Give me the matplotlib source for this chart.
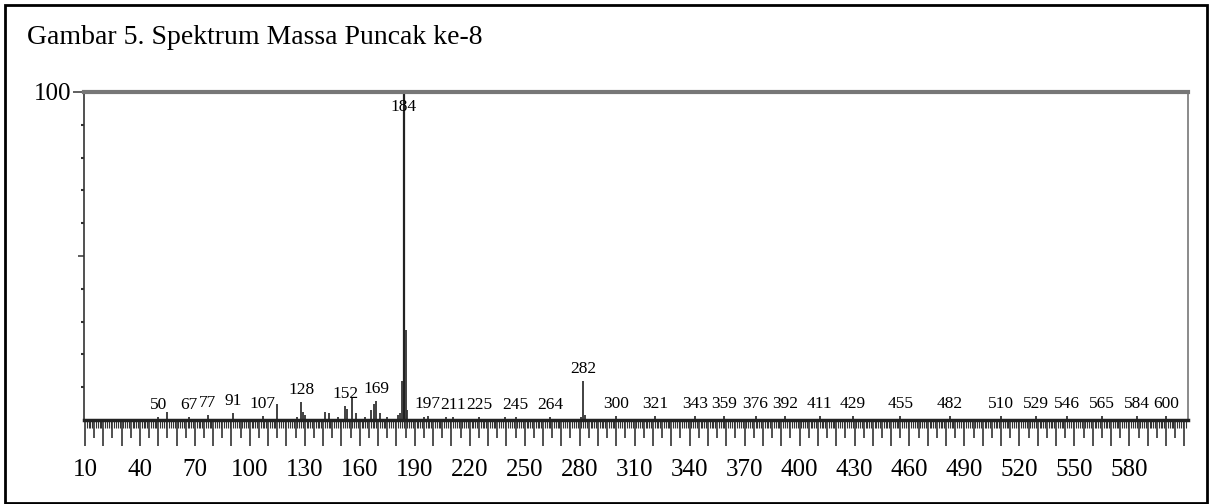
import numpy as np
import matplotlib
matplotlib.use('Agg')
import matplotlib.pyplot as plt
import matplotlib.patches as patches

plt.rcParams['font.family'] = ['Liberation Serif', 'DejaVu Serif']

# labelled peaks (m/z, relative intensity %)
label_mz = [50, 67, 77, 91, 107, 128, 152, 169, 197, 211, 225, 245, 264, 282,
            300, 321, 343, 359, 376, 392, 411, 429, 455, 482, 510, 529, 546,
            565, 584, 600]
label_int = [0.8, 1.0, 1.5, 2.2, 1.2, 5.5, 4.2, 5.8, 1.2, 1.0, 0.8, 1.0, 1.0, 11.8,
             1.2, 1.2, 1.2, 1.2, 1.2, 1.2, 1.2, 1.2, 1.2, 1.2, 1.2, 1.2, 1.2,
             1.2, 1.2, 1.2]

# base peak
base_mz = 184
base_int = 100

# other, unlabelled peaks
other_mz = [55, 115, 126, 129, 130, 141, 143, 148, 153, 156, 158, 163, 166, 168,
            171, 175, 181, 182, 183, 185, 186, 195, 207, 239, 281, 283]
other_int = [2.5, 5.0, 1.0, 2.5, 1.5, 2.5, 2.0, 1.0, 3.5, 7.0, 2.0, 1.0, 3.0, 5.0,
             2.0, 1.0, 1.5, 2.0, 12.0, 27.5, 3.0, 1.0, 1.0, 0.8, 1.0, 1.5]

x_labels = list(range(10, 581, 30))

fig = plt.figure(figsize=(12.12, 5.04), dpi=100)
fig.patches.append(patches.Rectangle((0.004, 0.002), 0.992, 0.988, transform=fig.transFigure,
                                     fill=False, edgecolor='black', linewidth=2))
fig.text(0.022, 0.925, 'Gambar 5. Spektrum Massa Puncak ke-8', fontsize=20,
         va='center', ha='left')

ax = fig.add_axes([0.0693, 0.1667, 0.9109, 0.6508])

ax.vlines(other_mz, 0, other_int, color='#333333', linewidth=1.3)
ax.vlines(label_mz, 0, label_int, color='#333333', linewidth=1.3)
ax.vlines([base_mz], 0, [base_int], color='#222222', linewidth=1.6)

for mz, h in zip(label_mz, label_int):
    ax.annotate(str(mz), (mz, h), xytext=(0, 3), textcoords='offset points',
                ha='center', va='bottom', fontsize=12.5)
ax.annotate(str(base_mz), (base_mz, base_int), xytext=(0, -11), textcoords='offset points',
            ha='center', va='center', fontsize=12.5)

ax.set_xlim(9.5, 612)
ax.set_ylim(0, 100)

# spines
ax.spines['top'].set_linewidth(3)
ax.spines['top'].set_color('#777777')
ax.spines['bottom'].set_linewidth(2.5)
ax.spines['bottom'].set_color('#222222')
ax.spines['left'].set_linewidth(1.2)
ax.spines['left'].set_color('#333333')
ax.spines['right'].set_linewidth(1.2)
ax.spines['right'].set_color('#777777')

# x ticks
major = list(range(10, 611, 10))
ax.set_xticks(major)
ax.set_xticklabels([str(v) if v in x_labels else '' for v in major])
minor = [v for v in range(10, 612) if v % 10 != 0]
ax.set_xticks(minor, minor=True)
ax.tick_params(axis='x', which='major', direction='out', length=19, width=1.2,
               color='#333333', labelsize=18, pad=9)
ax.tick_params(axis='x', which='minor', direction='out', length=5.5, width=0.8,
               color='#333333')
for t, v in zip(ax.xaxis.get_minor_ticks(len(minor)), minor):
    if v % 5 == 0:
        t.tick1line.set_markersize(13)
        t.tick1line.set_markeredgewidth(1.2)

# y ticks
ax.set_yticks([50, 100])
ax.set_yticklabels(['', '100'])
ax.set_yticks([10, 20, 30, 40, 60, 70, 80, 90], minor=True)
ax.tick_params(axis='y', which='major', direction='out', length=8, width=1.2,
               color='#444444', labelsize=18, pad=1)
ax.tick_params(axis='y', which='minor', direction='out', length=2.5, width=1.5,
               color='#333333')
ax.yaxis.get_major_ticks()[0].tick1line.set_markersize(4)

plt.savefig('out.png', dpi=100)
